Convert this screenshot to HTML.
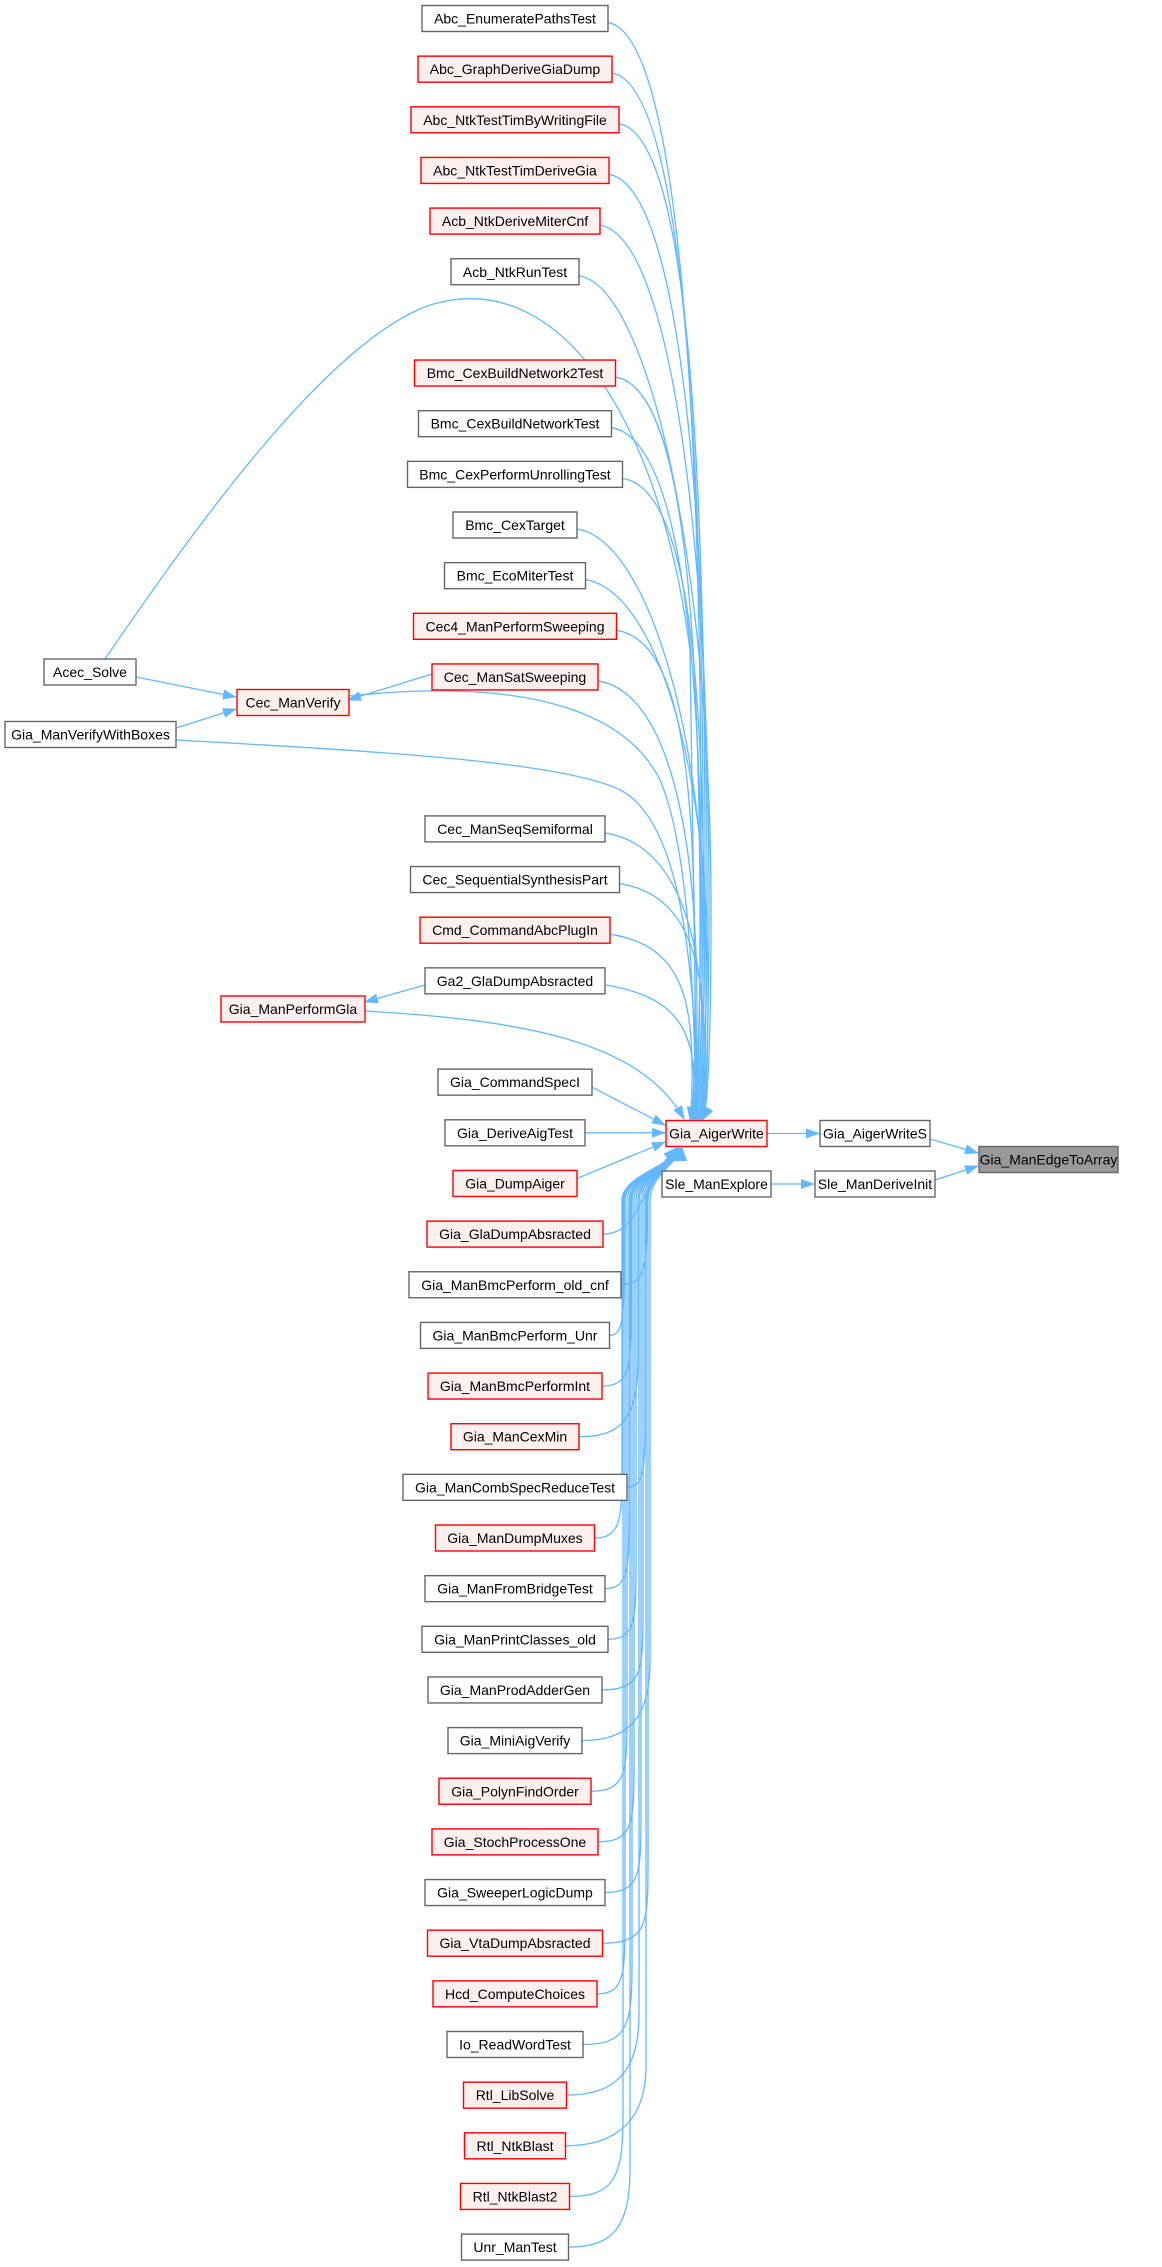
<!DOCTYPE html>
<html><head><meta charset="utf-8">
<style>
html,body{margin:0;padding:0;background:#fff;}
body{width:1162px;height:2267px;position:relative;overflow:hidden;font-family:"Liberation Sans",Arial,sans-serif;}
svg{position:absolute;left:0;top:0;}
</style></head>
<body>
<svg id="s" width="1162" height="2267" viewBox="0 0 1162 2267" xmlns="http://www.w3.org/2000/svg">
<defs>
<marker id="b" markerWidth="14" markerHeight="10" refX="13" refY="5" orient="auto" markerUnits="userSpaceOnUse" viewBox="0 0 14 10">
<path d="M0,0 L14,5 L0,10 z" fill="#63b8ff"/>
</marker>
</defs>
<g id="edges" fill="none" stroke="#63b8ff" stroke-width="1.3"></g>
<g id="nodes" font-family="Liberation Sans, Arial, sans-serif" font-size="14"></g>
</svg>
<script>
var P=50.65, Y0=18.5;
function sy(k){return Y0+P*k;}
var left=[
["Abc_EnumeratePathsTest",0,0],["Abc_GraphDeriveGiaDump",1,1],["Abc_NtkTestTimByWritingFile",2,1],
["Abc_NtkTestTimDeriveGia",3,1],["Acb_NtkDeriveMiterCnf",4,1],["Acb_NtkRunTest",5,0],
["Bmc_CexBuildNetwork2Test",7,1],["Bmc_CexBuildNetworkTest",8,0],["Bmc_CexPerformUnrollingTest",9,0],
["Bmc_CexTarget",10,0],["Bmc_EcoMiterTest",11,0],["Cec4_ManPerformSweeping",12,1],["Cec_ManSatSweeping",13,1],
["Cec_ManSeqSemiformal",16,0],["Cec_SequentialSynthesisPart",17,0],["Cmd_CommandAbcPlugIn",18,1],
["Ga2_GlaDumpAbsracted",19,0],["Gia_CommandSpecI",21,0],["Gia_DeriveAigTest",22,0],["Gia_DumpAiger",23,1],
["Gia_GlaDumpAbsracted",24,1],["Gia_ManBmcPerform_old_cnf",25,0],["Gia_ManBmcPerform_Unr",26,0],
["Gia_ManBmcPerformInt",27,1],["Gia_ManCexMin",28,1],["Gia_ManCombSpecReduceTest",29,0],
["Gia_ManDumpMuxes",30,1],["Gia_ManFromBridgeTest",31,0],["Gia_ManPrintClasses_old",32,0],
["Gia_ManProdAdderGen",33,0],["Gia_MiniAigVerify",34,0],["Gia_PolynFindOrder",35,1],
["Gia_StochProcessOne",36,1],["Gia_SweeperLogicDump",37,0],["Gia_VtaDumpAbsracted",38,1],
["Hcd_ComputeChoices",39,1],["Io_ReadWordTest",40,0],["Rtl_LibSolve",41,1],["Rtl_NtkBlast",42,1],
["Rtl_NtkBlast2",43,1],["Unr_ManTest",44,0]];
var c=document.createElement("canvas").getContext("2d");
c.font="14px 'Liberation Sans'";
var NS="http://www.w3.org/2000/svg";
var ng=document.getElementById("nodes"), eg=document.getElementById("edges");
function node(t,cx,cy,red,gray,w){
  if(!w) w=Math.round(c.measureText(t).width+24);
  var r=document.createElementNS(NS,"rect");
  r.setAttribute("x",cx-w/2);r.setAttribute("y",cy-13);r.setAttribute("width",w);r.setAttribute("height",26);
  r.setAttribute("fill",gray?"#999999":(red?"#fff0f0":"#ffffff"));
  r.setAttribute("stroke",gray?"#666666":(red?"#ff0000":"#666666"));r.setAttribute("stroke-width","1.4");
  ng.appendChild(r);
  var tx=document.createElementNS(NS,"text");
  tx.setAttribute("x",cx);tx.setAttribute("y",cy+5);tx.setAttribute("text-anchor","middle");tx.setAttribute("fill","#000");
  tx.textContent=t;ng.appendChild(tx);
  return {l:cx-w/2,r:cx+w/2,t:cy-13,b:cy+13,cx:cx,cy:cy};
}
function edge(d){
  var p=document.createElementNS(NS,"path");p.setAttribute("d",d);
  p.setAttribute("marker-end","url(#b)");eg.appendChild(p);
}
var AW=node("Gia_AigerWrite",716.5,1133.5,1,0,101);
var AWS=node("Gia_AigerWriteS",875,1133.5,0,0,110);
var ETA=node("Gia_ManEdgeToArray",1048.5,1159.5,0,1,139);
var SME=node("Sle_ManExplore",716.5,1184,0,0,109);
var SMD=node("Sle_ManDeriveInit",875,1184,0,0,120);
var AS=node("Acec_Solve",90,672,0,0,92);
var CMV=node("Cec_ManVerify",293,702.5,1,0,112);
var GVB=node("Gia_ManVerifyWithBoxes",90.5,734.5,0,0,171);
var GPG=node("Gia_ManPerformGla",293,1009,1,0,144);
var L={};
left.forEach(function(a){L[a[0]]=node(a[0],515,sy(a[1]),a[2],0);});
edge("M"+AW.r+" 1133.5 L"+(AWS.l-1)+" 1133.5");
edge("M"+AWS.r+" 1139 L"+(ETA.l-1)+" 1153");
edge("M"+SMD.r+" 1180 L"+(ETA.l-1)+" 1166");
edge("M"+SME.r+" 1184 L"+(SMD.l-1)+" 1184");
edge("M"+AS.r+" 677 L"+(CMV.l-1)+" 697");
edge("M"+GVB.r+" 728 L"+(CMV.l-1)+" 709");
edge("M"+L["Cec_ManSatSweeping"].l+" 674 L"+(CMV.r-1)+" 700");
edge("M"+L["Ga2_GlaDumpAbsracted"].l+" 985 L"+(GPG.r)+" 1002");
left.forEach(function(a,i){
  var n=L[a[0]], k=a[1], y=n.cy;
  if(k==22){edge("M"+n.r+" "+y+" L"+(AW.l-1)+" "+y);return;}
  if(k==21){edge("M"+n.r+" "+(y+5)+" L"+(AW.l-1)+" 1125");return;}
  if(k==23){edge("M"+n.r+" "+(y-5)+" L"+(AW.l-1)+" 1142");return;}
  if(k<22){
    var ex=690+(k%6)*2.5, x2=ex+(22-k)*0.5;
    var dy=1119-y;
    edge("M"+n.r+" "+(y+4)+" C"+(n.r+70)+" "+(y+15)+", "+x2+" "+(y+dy*0.35)+", "+x2+" "+(y+dy*0.75)+" Q"+x2+" 1105 "+ex+" 1120");
  } else {
    var vx=622+((k*7)%30), ex=676+(k%4)*2;
    if(vx<n.r+14) vx=n.r+14;
    var cx1=Math.min(n.r+45, vx);
    if(y-80<1200){
      edge("M"+n.r+" "+y+" C"+(vx)+" "+y+", "+vx+" 1185, "+ex+" 1148");
    } else {
      edge("M"+n.r+" "+y+" C"+cx1+" "+y+", "+vx+" "+(y-20)+", "+vx+" "+(y-80)+" L"+vx+" 1200 C"+vx+" 1175 "+ex+" 1162 "+ex+" 1148");
    }
  }
});
edge("M105 659 C200 520, 330 340, 430 305 C560 265, 660 420, 690 650 L697 1119");
edge("M"+GVB.r+" 740 C350 750, 560 760, 620 790 C680 820, 695 960, 698 1119");
edge("M"+CMV.r+" 696 C500 680, 620 700, 660 780 C690 850, 694 1000, 696 1119");
edge("M"+GPG.r+" 1011 C520 1020, 640 1040, 684 1119");
</script>
</body></html>
